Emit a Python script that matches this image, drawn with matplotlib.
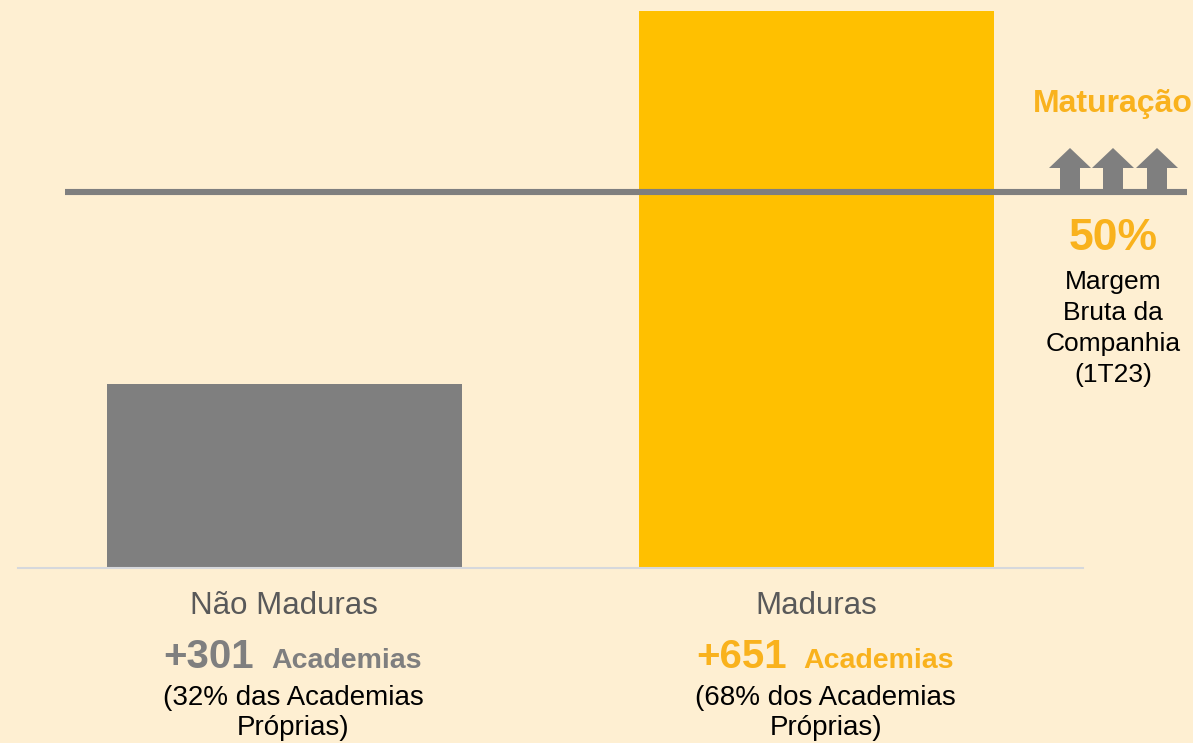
import matplotlib.pyplot as plt
from matplotlib.patches import Polygon

plt.rcParams['font.family'] = ['Liberation Sans', 'DejaVu Sans']

# data
categories = ["Não Maduras", "Maduras"]
values = [24.5, 74.0]          # bar heights (relative)
gyms = ["+301", "+651"]
shares = ["(32% das Academias", "(68% dos Academias"]
ref_level = 50.0               # margem bruta da companhia
ref_label = "50%"

BG = '#FEEFD2'
GREY = '#7F7F7F'
YELLOW = '#FFC000'
YTEXT = '#F9B21D'
bar_colors = [GREY, YELLOW]
num_colors = [GREY, YTEXT]

W, H = 1193, 743
fig = plt.figure(figsize=(W / 100, H / 100), dpi=100, facecolor=BG)
ax = fig.add_axes([18 / W, (H - 568) / H, 1065 / W, 557 / H])
ax.set_facecolor(BG)

x = range(len(categories))
ax.bar(x, values, width=0.667, color=bar_colors, zorder=2)
ax.set_xlim(-0.5, 1.5)
ax.set_ylim(0, max(values))

for s in ['top', 'right', 'left']:
    ax.spines[s].set_visible(False)
ax.spines['bottom'].set_color('#D6D8DC')
ax.spines['bottom'].set_linewidth(1.5)
ax.set_xticks([])
ax.set_yticks([])

# reference line, reaches past the axes on both sides
ax.plot([-0.412, 1.695], [ref_level, ref_level], color=GREY, lw=4.4,
        solid_capstyle='butt', clip_on=False, zorder=3)

# labels below the bars
for i, cat in enumerate(categories):
    ax.annotate(cat, (i, 0), xytext=(0, -38), textcoords='offset pixels',
                ha='center', va='center', fontsize=22.5, color='#595959',
                annotation_clip=False)
    ax.annotate(gyms[i], (i, 0), xytext=(-30, -100), textcoords='offset pixels',
                ha='right', va='baseline', fontsize=29, fontweight='bold',
                color=num_colors[i], annotation_clip=False)
    ax.annotate("Academias", (i, 0), xytext=(-13, -100), textcoords='offset pixels',
                ha='left', va='baseline', fontsize=20.5, fontweight='bold',
                color=num_colors[i], annotation_clip=False)
    ax.annotate(shares[i], (i, 0), xytext=(9, -137), textcoords='offset pixels',
                ha='center', va='baseline', fontsize=20, color='black',
                annotation_clip=False)
    ax.annotate("Próprias)", (i, 0), xytext=(9, -167), textcoords='offset pixels',
                ha='center', va='baseline', fontsize=20, color='black',
                annotation_clip=False)


def fx(px):
    return px / W


def fy(py):
    return 1 - py / H


# right-hand annotation
fig.text(fx(1113), fy(112), "Maturação", ha='center', va='baseline',
         fontsize=23, fontweight='bold', color=YTEXT)
fig.text(fx(1113), fy(250), ref_label, ha='center', va='baseline',
         fontsize=32, fontweight='bold', color=YTEXT)
for k, line in enumerate(["Margem", "Bruta da", "Companhia", "(1T23)"]):
    fig.text(fx(1113), fy(289 + 31 * k), line, ha='center', va='baseline',
             fontsize=19, color='black')

# three up arrows sitting on the line
for cx in [1070, 1113, 1157]:
    pts = [(cx - 10, 190), (cx - 10, 168), (cx - 21, 168), (cx, 148),
           (cx + 21, 168), (cx + 10, 168), (cx + 10, 190)]
    fig.patches.append(Polygon([(fx(a), fy(b)) for a, b in pts], closed=True,
                               transform=fig.transFigure, facecolor=GREY,
                               edgecolor='none', zorder=4))

fig.savefig('out.png', dpi=100, facecolor=BG)
